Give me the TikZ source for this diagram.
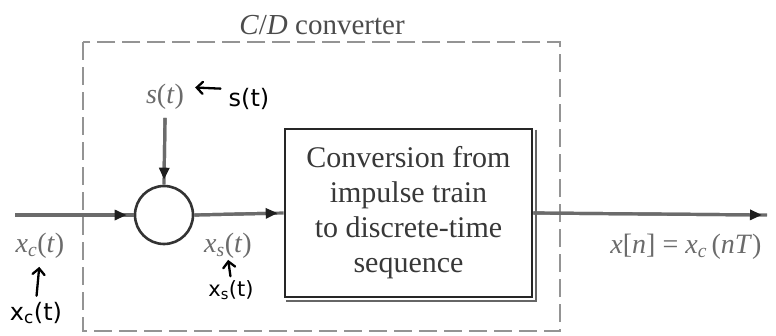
\documentclass[tikz,border=0pt]{standalone}
\usepackage{fontspec}
\setmainfont{Liberation Serif}
\newfontfamily\handfont{DejaVu Sans}
\usetikzlibrary{arrows.meta,calc}

\tikzset{
  wire/.style={line width=3.2pt, draw=black!58},
  tipped/.style={-{Triangle[length=12pt,width=10pt,color=black!88]}},
  frame/.style={line width=2.8pt, draw=black!42, dash pattern=on 18pt off 7pt},
  lbl/.style={font=\fontsize{28}{30}\selectfont, text=black!58, inner sep=0pt},
  blocktext/.style={font=\fontsize{30}{35}\selectfont, text=black!78, align=center},
  hand/.style={line width=2.3pt, draw=black, line cap=round,
               -{Straight Barb[length=6pt,width=12pt,line cap=round]}},
  handtext/.style={font=\handfont\fontsize{24}{26}\selectfont, text=black, inner sep=0pt}
}

\begin{document}
\begin{tikzpicture}[x=1pt,y=-1pt]
\useasboundingbox (0,0) rectangle (776,335);

% C/D converter enclosure
\draw[frame] (83,42) rectangle (560,331);
\node[font=\fontsize{29}{31}\selectfont, text=black!70, inner sep=0pt] (title) at (322,25)
  {\textit{C}/\textit{D} converter};

% multiplier and its inputs
\node[circle, draw=black!80, line width=2.6pt, minimum size=58pt, inner sep=0pt] (mix) at (164,215) {};
\node[lbl] (s) at (165,97) {\textit{s}(\textit{t})};
\coordinate (in) at (15,215);

% conversion block
\node[draw=black!85, line width=2.6pt, minimum width=247pt, minimum height=168pt,
      blocktext, inner sep=0pt] (conv) at (408.5,213)
  {Conversion from\\impulse train\\to discrete-time\\sequence};
\draw[line width=2pt, black!60]
  ($(conv.north east)+(2.2,2)$) -- ($(conv.south east)+(2.2,2.2)$) -- ($(conv.south west)+(2,2.2)$);

\coordinate (out) at (767,215);

% signal paths
\draw[wire] (in) -- (mix.west);
\draw[wire, tipped, shorten >=7pt] (in) -- (mix.west);
\draw[wire] ($(s.south)+(0,8)$) -- (mix.north);
\draw[wire, tipped, shorten >=5pt] ($(s.south)+(0,8)$) -- (mix.north);
\draw[wire] (mix.east) -- (conv.west);
\draw[wire, tipped, shorten >=6pt] (mix.east) -- (conv.west);
\draw[wire] (conv.east) -- (out);
\draw[wire, tipped, shorten >=5pt] (conv.east) -- (out);

% signal labels
\node[lbl] (xc) at (40,246) {\textit{x}\textsubscript{\textit{c}}(\textit{t})};
\node[lbl] (xs) at (228,246) {\textit{x}\textsubscript{\textit{s}}(\textit{t})};
\node[lbl] (xn) at (686,247) {\textit{x}[\textit{n}] = \textit{x}\textsubscript{\textit{c}}\,(\textit{nT})};

% handwritten notes
\node[handtext] (hs) at (249,99) {s(t)};
\draw[hand, shorten <=8pt, shorten >=11pt] ([yshift=10pt]hs.west) -- ([yshift=10pt]s.east);
\node[handtext] (hxc) at (36,313) {x\textsubscript{c}(t)};
\draw[hand, shorten <=6pt, shorten >=8pt] (hxc.north) -- (xc.south);
\node[handtext, font=\handfont\fontsize{21}{23}\selectfont] (hxs) at (231,290) {x\textsubscript{s}(t)};
\draw[hand, shorten <=4pt, shorten >=1pt] (hxs.north) -- (xs.south);
\end{tikzpicture}
\end{document}
